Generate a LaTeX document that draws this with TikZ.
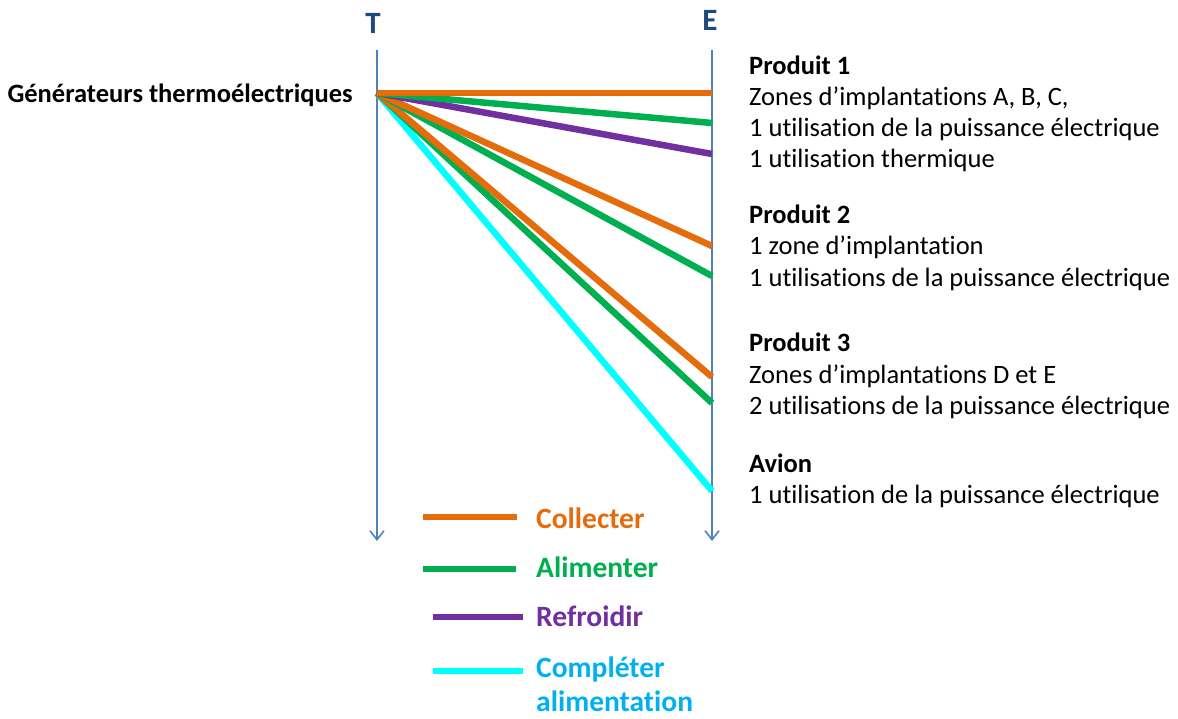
\documentclass[tikz,border=0pt]{standalone}
\usepackage{fontspec}
\setmainfont{Carlito}[Ligatures={NoCommon}]
\usetikzlibrary{arrows.meta}
\definecolor{corange}{HTML}{E46C0A}
\definecolor{cgreen}{HTML}{00B050}
\definecolor{cpurple}{HTML}{7030A0}
\definecolor{ccyan}{HTML}{00FFFF}
\definecolor{ctext}{HTML}{00B0F0}
\definecolor{caxis}{HTML}{4F81BD}
\definecolor{clabel}{HTML}{1F497D}
\tikzset{
  axis/.style={draw=caxis, line width=1.6pt, -{Straight Barb[length=9pt,width=14pt,line width=1.6pt]}},
  flow/.style={line width=6.5pt},
  axlabel/.style={font=\fontsize{31}{34}\selectfont\bfseries, text=clabel, inner sep=0pt},
  info/.style={font=\fontsize{26.5}{30}\selectfont, anchor=base west, inner sep=0pt},
  infob/.style={info, font=\fontsize{26.5}{30}\selectfont\bfseries},
  legtxt/.style={font=\fontsize{29.5}{34}\selectfont\bfseries, anchor=west, inner sep=0pt},
}
\begin{document}
\begin{tikzpicture}[x=1pt,y=-1pt]
\useasboundingbox (0,0) rectangle (1178,718);
% axes
\coordinate (Ttop) at (377,50);
\coordinate (Tbot) at (377,541);
\coordinate (Etop) at (712,50);
\coordinate (Ebot) at (712,541);
\draw[axis] (Ttop) -- (Tbot);
\draw[axis] (Etop) -- (Ebot);
\node[axlabel] (T) at (373,23) {T};
\node[axlabel] (E) at (710,20) {E};
% origin and ends
\coordinate (O) at (377,93);
\coordinate (e1) at (712,93);
\coordinate (e2) at (712,123);
\coordinate (e3) at (712,154);
\coordinate (e4) at (712,246);
\coordinate (e5) at (712,276);
\coordinate (e6) at (712,377);
\coordinate (e7) at (712,403);
\coordinate (e8) at (712,491);
\draw[flow, ccyan] (O) -- (e8);
\draw[flow, cgreen] (O) -- (e7);
\draw[flow, corange] (O) -- (e6);
\draw[flow, cgreen] (O) -- (e5);
\draw[flow, corange] (O) -- (e4);
\draw[flow, cpurple] (O) -- (e3);
\draw[flow, cgreen] (O) -- (e2);
\draw[flow, corange] (O) -- (e1);
% left label
\node[font=\fontsize{26.5}{30}\selectfont\bfseries, anchor=east, inner sep=0pt] (gen) at (353,95) {Générateurs thermoélectriques};
% right texts
\node[infob] (p1) at (749,74) {Produit 1};
\node[info] (p1a) at (749,105) {Zones d’implantations A, B, C,};
\node[info] (p1b) at (749,136) {1 utilisation de la puissance électrique};
\node[info] (p1c) at (749,167) {1 utilisation thermique};
\node[infob] (p2) at (749,223) {Produit 2};
\node[info] (p2a) at (749,254) {1 zone d’implantation};
\node[info] (p2b) at (749,286) {1 utilisations de la puissance électrique};
\node[infob] (p3) at (749,351) {Produit 3};
\node[info] (p3a) at (749,383) {Zones d’implantations D et E};
\node[info] (p3b) at (749,414) {2 utilisations de la puissance électrique};
\node[infob] (av) at (749,472) {Avion};
\node[info] (ava) at (749,503) {1 utilisation de la puissance électrique};
% legend
\coordinate (l1a) at (423,517); \coordinate (l1b) at (517,517);
\coordinate (l2a) at (423,569); \coordinate (l2b) at (516,569);
\coordinate (l3a) at (433,617); \coordinate (l3b) at (523,617);
\coordinate (l4a) at (433,671); \coordinate (l4b) at (523,671);
\draw[flow, corange] (l1a) -- (l1b);
\draw[flow, cgreen] (l2a) -- (l2b);
\draw[flow, cpurple] (l3a) -- (l3b);
\draw[flow, ccyan] (l4a) -- (l4b);
\node[legtxt, text=corange] (lt1) at (536,518) {Collecter};
\node[legtxt, text=cgreen] (lt2) at (536,567) {Alimenter};
\node[legtxt, text=cpurple] (lt3) at (536,616) {Refroidir};
\node[legtxt, text=ctext, align=left, font=\fontsize{29.5}{34}\selectfont\bfseries] (lt4) at (536,684) {Compléter\\alimentation};
\end{tikzpicture}
\end{document}
